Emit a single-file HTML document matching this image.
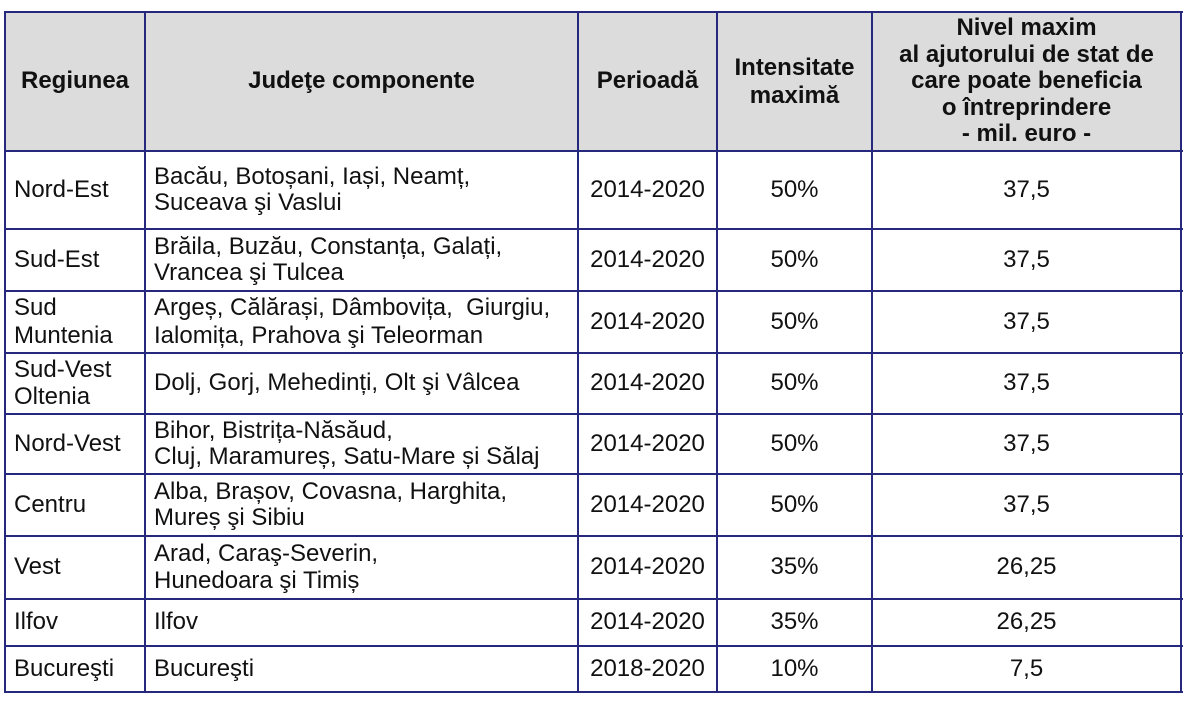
<!DOCTYPE html>
<html>
<head>
<meta charset="utf-8">
<style>
  html, body { margin:0; padding:0; background:#fff; }
  body { width:1188px; height:704px; position:relative; overflow:hidden;
         font-family:"Liberation Sans", Arial, sans-serif; color:#111; }
  .bg { position:absolute; background:#dcdcdc; }
  .h { position:absolute; height:2px; background:#26287e; }
  .v { position:absolute; width:2px; background:#26287e; }
  .c { position:absolute; display:flex; align-items:center; font-size:24px; line-height:26.5px; box-sizing:border-box; }
  .l { justify-content:flex-start; padding-left:8px; text-align:left; }
  .m { justify-content:center; text-align:center; }
  .b { font-weight:bold; }
  .pre { white-space:pre; }
</style>
</head>
<body>
<!-- header background -->
<div class="bg" style="left:6px;top:13px;width:1175px;height:138px;"></div>

<!-- horizontal lines -->
<div class="h" style="left:4px;width:1179px;top:11px;"></div>
<div class="h" style="left:4px;width:1179px;top:150px;"></div>
<div class="h" style="left:4px;width:1179px;top:228px;"></div>
<div class="h" style="left:4px;width:1179px;top:290px;"></div>
<div class="h" style="left:4px;width:1179px;top:352px;"></div>
<div class="h" style="left:4px;width:1179px;top:413px;"></div>
<div class="h" style="left:4px;width:1179px;top:473px;"></div>
<div class="h" style="left:4px;width:1179px;top:535px;"></div>
<div class="h" style="left:4px;width:1179px;top:598px;"></div>
<div class="h" style="left:4px;width:1179px;top:645px;"></div>
<div class="h" style="left:4px;width:1179px;top:691px;"></div>

<!-- vertical lines -->
<div class="v" style="top:11px;height:682px;left:4px;"></div>
<div class="v" style="top:11px;height:682px;left:144px;"></div>
<div class="v" style="top:11px;height:682px;left:577px;"></div>
<div class="v" style="top:11px;height:682px;left:716px;"></div>
<div class="v" style="top:11px;height:682px;left:871px;"></div>
<div class="v" style="top:11px;height:682px;left:1180px;"></div>

<!-- header -->
<div class="c m b" style="left:6px;top:13px;width:138px;height:137px;">Regiunea</div>
<div class="c m b" style="left:146px;top:13px;width:431px;height:137px;">Judeţe componente</div>
<div class="c m b" style="left:579px;top:13px;width:137px;height:137px;">Perioadă</div>
<div class="c m b" style="left:718px;top:13px;width:153px;height:137px;line-height:27.5px;">Intensitate<br>maximă</div>
<div class="c m b" style="left:873px;top:13px;width:307px;height:137px;">Nivel maxim<br>al ajutorului de stat de<br>care poate beneficia<br>o întreprindere<br>- mil. euro -</div>

<!-- rows: tops/heights -->
<!-- Row 1 -->
<div class="c l" style="left:6px;top:152px;width:138px;height:76px;">Nord-Est</div>
<div class="c l" style="left:146px;top:152px;width:431px;height:76px;">Bacău, Botoșani, Iași, Neamț,<br>Suceava şi Vaslui</div>
<div class="c m" style="left:579px;top:152px;width:137px;height:76px;">2014-2020</div>
<div class="c m" style="left:718px;top:152px;width:153px;height:76px;">50%</div>
<div class="c m" style="left:873px;top:152px;width:307px;height:76px;">37,5</div>

<!-- Row 2 -->
<div class="c l" style="left:6px;top:230px;width:138px;height:60px;">Sud-Est</div>
<div class="c l" style="left:146px;top:230px;width:431px;height:60px;">Brăila, Buzău, Constanța, Galați,<br>Vrancea şi Tulcea</div>
<div class="c m" style="left:579px;top:230px;width:137px;height:60px;">2014-2020</div>
<div class="c m" style="left:718px;top:230px;width:153px;height:60px;">50%</div>
<div class="c m" style="left:873px;top:230px;width:307px;height:60px;">37,5</div>

<!-- Row 3 -->
<div class="c l" style="left:6px;top:292px;width:138px;height:60px;line-height:28px;">Sud<br>Muntenia</div>
<div class="c l pre" style="left:146px;top:292px;width:431px;height:60px;line-height:28px;">Argeș, Călărași, Dâmbovița,  Giurgiu,
Ialomița, Prahova şi Teleorman</div>
<div class="c m" style="left:579px;top:292px;width:137px;height:60px;">2014-2020</div>
<div class="c m" style="left:718px;top:292px;width:153px;height:60px;">50%</div>
<div class="c m" style="left:873px;top:292px;width:307px;height:60px;">37,5</div>

<!-- Row 4 -->
<div class="c l" style="left:6px;top:354px;width:138px;height:59px;">Sud-Vest<br>Oltenia</div>
<div class="c l" style="left:146px;top:354px;width:431px;height:59px;">Dolj, Gorj, Mehedinți, Olt şi Vâlcea</div>
<div class="c m" style="left:579px;top:354px;width:137px;height:59px;">2014-2020</div>
<div class="c m" style="left:718px;top:354px;width:153px;height:59px;">50%</div>
<div class="c m" style="left:873px;top:354px;width:307px;height:59px;">37,5</div>

<!-- Row 5 -->
<div class="c l" style="left:6px;top:415px;width:138px;height:58px;">Nord-Vest</div>
<div class="c l" style="left:146px;top:415px;width:431px;height:58px;">Bihor, Bistrița-Năsăud,<br>Cluj, Maramureș, Satu-Mare și Sălaj</div>
<div class="c m" style="left:579px;top:415px;width:137px;height:58px;">2014-2020</div>
<div class="c m" style="left:718px;top:415px;width:153px;height:58px;">50%</div>
<div class="c m" style="left:873px;top:415px;width:307px;height:58px;">37,5</div>

<!-- Row 6 -->
<div class="c l" style="left:6px;top:475px;width:138px;height:60px;">Centru</div>
<div class="c l" style="left:146px;top:475px;width:431px;height:60px;">Alba, Brașov, Covasna, Harghita,<br>Mureș şi Sibiu</div>
<div class="c m" style="left:579px;top:475px;width:137px;height:60px;">2014-2020</div>
<div class="c m" style="left:718px;top:475px;width:153px;height:60px;">50%</div>
<div class="c m" style="left:873px;top:475px;width:307px;height:60px;">37,5</div>

<!-- Row 7 -->
<div class="c l" style="left:6px;top:537px;width:138px;height:61px;">Vest</div>
<div class="c l" style="left:146px;top:537px;width:431px;height:61px;">Arad, Caraş-Severin,<br>Hunedoara şi Timiș</div>
<div class="c m" style="left:579px;top:537px;width:137px;height:61px;">2014-2020</div>
<div class="c m" style="left:718px;top:537px;width:153px;height:61px;">35%</div>
<div class="c m" style="left:873px;top:537px;width:307px;height:61px;">26,25</div>

<!-- Row 8 -->
<div class="c l" style="left:6px;top:600px;width:138px;height:45px;">Ilfov</div>
<div class="c l" style="left:146px;top:600px;width:431px;height:45px;">Ilfov</div>
<div class="c m" style="left:579px;top:600px;width:137px;height:45px;">2014-2020</div>
<div class="c m" style="left:718px;top:600px;width:153px;height:45px;">35%</div>
<div class="c m" style="left:873px;top:600px;width:307px;height:45px;">26,25</div>

<!-- Row 9 -->
<div class="c l" style="left:6px;top:647px;width:138px;height:44px;">Bucureşti</div>
<div class="c l" style="left:146px;top:647px;width:431px;height:44px;">Bucureşti</div>
<div class="c m" style="left:579px;top:647px;width:137px;height:44px;">2018-2020</div>
<div class="c m" style="left:718px;top:647px;width:153px;height:44px;">10%</div>
<div class="c m" style="left:873px;top:647px;width:307px;height:44px;">7,5</div>
</body>
</html>
